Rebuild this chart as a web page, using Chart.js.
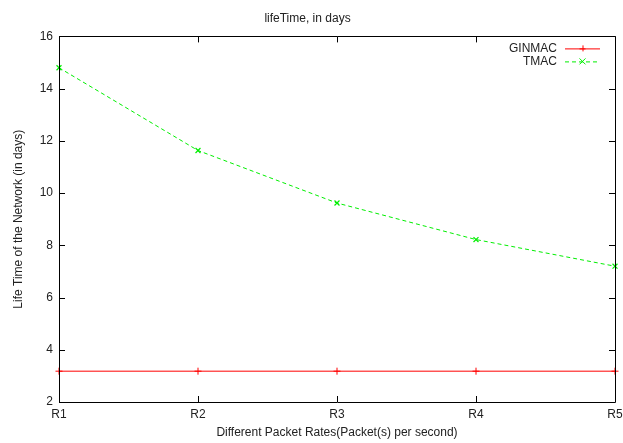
<!DOCTYPE html>
<html>
<head>
<meta charset="utf-8">
<script src="https://cdn.jsdelivr.net/npm/chart.js@4/dist/chart.umd.min.js"></script>
<style>
  html, body { margin: 0; padding: 0; background: #fff; }
  #wrap { width: 623px; height: 443px; }
</style>
</head>
<body>
<div id="wrap"><canvas id="myChart" width="623" height="443"></canvas></div>
<script>
// data
const rates = ['R1', 'R2', 'R3', 'R4', 'R5'];
const ginmac = [3.18, 3.18, 3.18, 3.18, 3.18];
const tmac = [14.8, 11.63, 9.62, 8.22, 7.2];
const yTicks = [2, 4, 6, 8, 10, 12, 14, 16];

const textColor = '#222';
const font = { family: 'Liberation Sans, Arial, sans-serif', size: 12, weight: 'normal' };

// gnuplot style frame: box on all sides with small inward ticks
const framePlugin = {
    id: 'frame',
    afterDatasetsDraw(chart) {
        const ctx = chart.ctx;
        const a = chart.chartArea;
        const x = chart.scales.x;
        const y = chart.scales.y;
        ctx.save();
        ctx.strokeStyle = '#000';
        ctx.lineWidth = 1;
        ctx.beginPath();
        ctx.rect(Math.round(a.left) + 0.5, Math.round(a.top) + 0.5,
            Math.round(a.right - a.left), Math.round(a.bottom - a.top));
        ctx.stroke();
        ctx.beginPath();
        rates.forEach((r, i) => {
            const px = Math.round(x.getPixelForValue(i)) + 0.5;
            ctx.moveTo(px, a.bottom); ctx.lineTo(px, a.bottom - 6);
            ctx.moveTo(px, a.top); ctx.lineTo(px, a.top + 6);
        });
        yTicks.forEach(v => {
            const py = Math.round(y.getPixelForValue(v)) + 0.5;
            ctx.moveTo(a.left, py); ctx.lineTo(a.left + 6, py);
            ctx.moveTo(a.right, py); ctx.lineTo(a.right - 6, py);
        });
        ctx.stroke();

        // legend, text then sample like gnuplot
        ctx.font = font.size + 'px ' + font.family;
        ctx.textAlign = 'right';
        ctx.textBaseline = 'middle';
        chart.data.datasets.forEach((ds, i) => {
            const ly = a.top + 12 + i * 13;
            const sx1 = a.right - 50, sx2 = a.right - 15;
            ctx.fillStyle = textColor;
            ctx.fillText(ds.label, sx1 - 8, ly);
            ctx.strokeStyle = ds.borderColor;
            ctx.setLineDash(ds.borderDash || []);
            ctx.beginPath();
            ctx.moveTo(sx1, ly + 0.5); ctx.lineTo(sx2, ly + 0.5);
            ctx.stroke();
            ctx.setLineDash([]);
            const cx = (sx1 + sx2) / 2;
            ctx.beginPath();
            if (ds.pointStyle === 'cross') {
                ctx.moveTo(cx - 3, ly + 0.5); ctx.lineTo(cx + 3, ly + 0.5);
                ctx.moveTo(cx + 0.5, ly - 3); ctx.lineTo(cx + 0.5, ly + 3);
            } else {
                ctx.moveTo(cx - 3, ly - 3); ctx.lineTo(cx + 3, ly + 3);
                ctx.moveTo(cx + 3, ly - 3); ctx.lineTo(cx - 3, ly + 3);
            }
            ctx.stroke();
        });
        ctx.restore();
    }
};

const data = {
    labels: rates,
    datasets: [{
        label: 'GINMAC',
        data: ginmac,
        borderColor: '#ff0000',
        backgroundColor: '#ff0000',
        borderWidth: 1,
        pointStyle: 'cross',
        pointRadius: 3.5,
        pointBorderWidth: 1,
        tension: 0
    }, {
        label: 'TMAC',
        data: tmac,
        borderColor: '#00ee00',
        backgroundColor: '#00ee00',
        borderWidth: 1,
        borderDash: [4, 3],
        pointStyle: 'crossRot',
        pointRadius: 3.5,
        pointBorderWidth: 1.2,
        tension: 0
    }]
};

const config = {
    type: 'line',
    data: data,
    options: {
        responsive: false,
        animation: false,
        layout: { padding: { left: 0, right: 8, top: 0, bottom: 0 } },
        plugins: {
            legend: { display: false },
            tooltip: { enabled: false },
            title: {
                display: true,
                text: 'lifeTime, in days',
                color: textColor,
                font: font,
                padding: { top: 11, bottom: 11 }
            }
        },
        scales: {
            x: {
                type: 'category',
                offset: false,
                grid: { display: false, drawTicks: false },
                border: { display: false },
                ticks: { color: textColor, font: font, padding: 5, maxRotation: 0 },
                title: {
                    display: true,
                    text: 'Different Packet Rates(Packet(s) per second)',
                    color: textColor,
                    font: font,
                    padding: { top: 2, bottom: 3 }
                },
                afterFit(scale) {
                    scale.height = 41;
                    scale.paddingRight = 0;
                    scale.paddingLeft = 0;
                }
            },
            y: {
                min: 2,
                max: 16,
                grid: { display: false, drawTicks: false },
                border: { display: false },
                ticks: { stepSize: 2, color: textColor, font: font, padding: 6 },
                title: {
                    display: true,
                    text: 'Life Time of the Network (in days)',
                    color: textColor,
                    font: font,
                    padding: { top: 11, bottom: 0 }
                },
                afterFit(scale) { scale.width = 59; }
            }
        }
    },
    plugins: [framePlugin]
};

// eslint-disable-next-line
const myChart = new Chart(
    document.getElementById('myChart'),
    config
);
</script>
</body>
</html>
